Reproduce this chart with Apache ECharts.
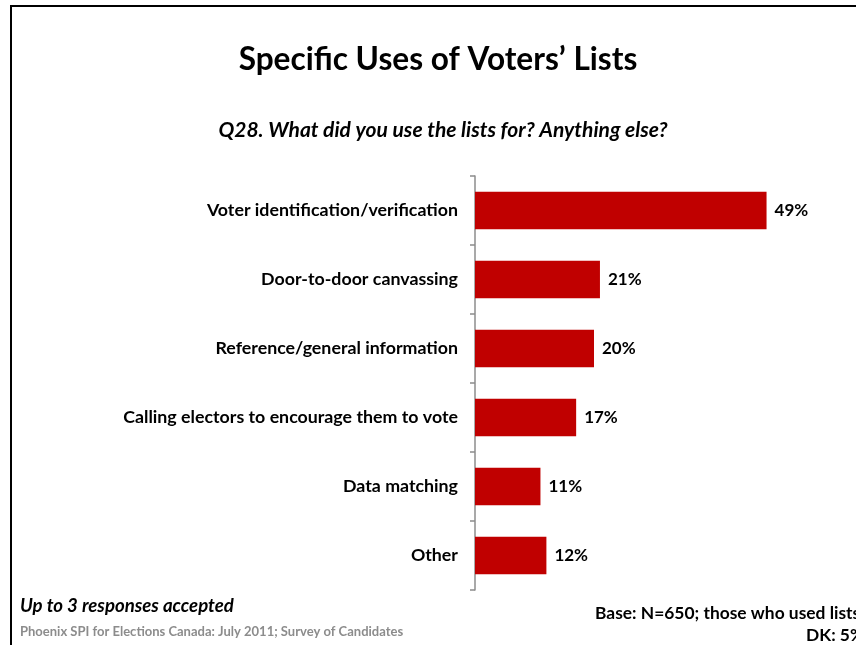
<!DOCTYPE html>
<html>
<head>
<meta charset="utf-8">
<script src="https://cdn.jsdelivr.net/npm/echarts@6/dist/echarts.min.js"></script>
<style>
  html, body { margin: 0; padding: 0; background: #fff; }
  #chart { width: 856px; height: 645px; }
</style>
</head>
<body>
<div id="chart"></div>
<script>
// Uses of voters' lists, share of candidates who used them
const categories = [
  'Voter identification/verification',
  'Door-to-door canvassing',
  'Reference/general information',
  'Calling electors to encourage them to vote',
  'Data matching',
  'Other'
];
const shares = [49, 21, 20, 17, 11, 12];

const FONT = 'Lato, "Open Sans", sans-serif';

const chart = echarts.init(document.getElementById('chart'), null, { renderer: 'canvas' });

chart.setOption({
  animation: false,
  backgroundColor: '#ffffff',
  grid: { left: 475, top: 176, width: 357, height: 414, containLabel: false },
  xAxis: {
    type: 'value', min: 0, max: 60, show: false
  },
  yAxis: {
    type: 'category',
    data: categories,
    inverse: true,
    axisLine: { show: true, lineStyle: { color: '#8c8c8c', width: 1.5 } },
    axisTick: { show: true, length: 5, lineStyle: { color: '#8c8c8c', width: 1.5 } },
    axisLabel: {
      margin: 17,
      fontFamily: FONT, fontWeight: 'bold', fontSize: 17.8, color: '#000'
    },
    splitLine: { show: false }
  },
  series: [{
    type: 'bar',
    data: shares,
    barCategoryGap: '46%',
    itemStyle: { color: '#C00000' },
    label: {
      show: true, position: 'right', distance: 8,
      formatter: '{c}%',
      fontFamily: FONT, fontWeight: 'bold', fontSize: 17, color: '#000'
    }
  }],
  graphic: [
    {
      type: 'polyline',
      shape: { points: [[11, 660], [11, 6], [870, 6]] },
      style: { stroke: '#000', lineWidth: 2, fill: null }
    },
    {
      type: 'text', x: 438, y: 60,
      style: { text: 'Specific Uses of Voters\u2019 Lists', font: 'bold 31.6px ' + FONT, fill: '#000', align: 'center', verticalAlign: 'middle' }
    },
    {
      type: 'text', x: 443, y: 130,
      style: { text: 'Q28. What did you use the lists for? Anything else?', font: 'italic bold 21px ' + FONT, fill: '#000', align: 'center', verticalAlign: 'middle' }
    },
    {
      type: 'text', x: 20, y: 606,
      style: { text: 'Up to 3 responses accepted', font: 'italic bold 18.6px ' + FONT, fill: '#000', verticalAlign: 'middle' }
    },
    {
      type: 'text', x: 20, y: 632,
      style: { text: 'Phoenix SPI for Elections Canada: July 2011; Survey of Candidates', font: 'bold 13px ' + FONT, fill: '#8c8c8c', verticalAlign: 'middle' }
    },
    {
      type: 'text', x: 595, y: 613,
      style: { text: 'Base: N=650; those who used lists', font: 'bold 17.4px ' + FONT, fill: '#000', verticalAlign: 'middle' }
    },
    {
      type: 'text', x: 806, y: 635,
      style: { text: 'DK: 5%', font: 'bold 17.4px ' + FONT, fill: '#000', verticalAlign: 'middle' }
    }
  ]
});
</script>
</body>
</html>
